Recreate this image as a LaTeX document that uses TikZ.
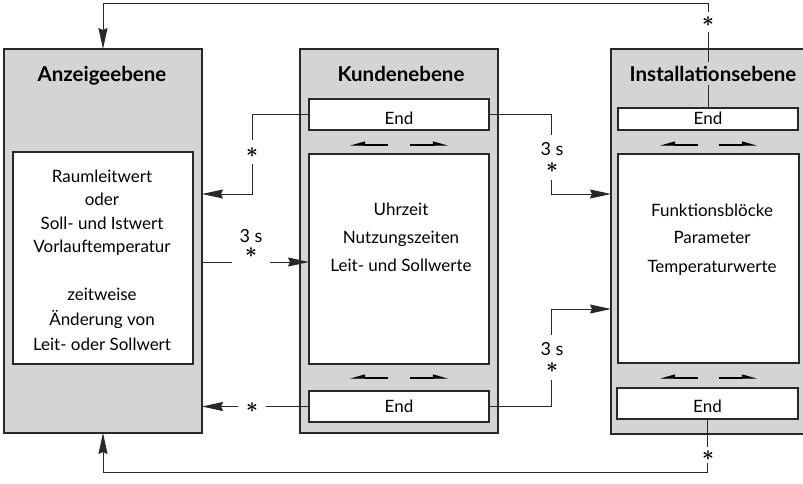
\documentclass[tikz,border=0pt]{standalone}
\usepackage{fontspec}
\setmainfont{Lato}
\usetikzlibrary{arrows.meta,calc}
\definecolor{panel}{RGB}{211,212,214}
\definecolor{ink}{RGB}{40,40,40}
\newcommand{\starglyph}{{\fontsize{22}{22}\selectfont\boldmath$\ast$}}

\begin{document}
\begin{tikzpicture}[x=1pt,y=-1pt,
  panelbox/.style={draw=ink,line width=1.4pt,fill=panel,anchor=north west,inner sep=0pt,outer sep=0pt},
  whitebox/.style={draw=ink,line width=1.1pt,fill=white,anchor=north west,inner sep=0pt,outer sep=0pt},
  heading/.style={font=\fontsize{20.5}{24}\selectfont\bfseries,anchor=base,fill=panel,inner sep=4pt},
  bodytext/.style={font=\fontsize{17}{20}\selectfont,anchor=base,inner sep=0pt},
  conn/.style={draw=ink,line width=1pt},
  tip/.style={-{Stealth[length=21pt,width=9pt,inset=2pt]}},
  harpR/.style={draw=black,line width=1.1pt,-{Stealth[harpoon,length=13pt,width=7pt,inset=0pt]}},
  harpL/.style={draw=black,line width=1.1pt,-{Stealth[harpoon,swap,length=13pt,width=7pt,inset=0pt]}},
  % asterisk on a connector; the white box (text height/depth) opens the gap in the line
  starmark/.style n args={2}{fill=white,inner sep=0pt,anchor=base,
    text height=#1pt,text depth=#2pt},
  % "3 s" above an asterisk, on a white patch that interrupts the line;
  % the node is placed by the baseline of its last line (the asterisk)
  delay/.style={fill=white,align=center,anchor=base,inner xsep=2pt,inner ysep=7pt,
    font=\fontsize{18}{20}\selectfont},
]
\useasboundingbox (0,0) rectangle (803,483);

% the three level panels
\node[panelbox,minimum width=198pt,minimum height=384pt] (anz) at (4,49) {};
\node[panelbox,minimum width=198pt,minimum height=384pt] (kun) at (300,49) {};
\node[panelbox,minimum width=200pt,minimum height=385pt] (ins) at (611,49) {};

% content boxes
\node[whitebox,minimum width=180pt,minimum height=212pt] (anzIn) at (13,152) {};
\node[whitebox,minimum width=180pt,minimum height=210pt] (kunIn) at (309,154) {};
\node[whitebox,minimum width=181pt,minimum height=209pt] (insIn) at (618,154) {};

% End boxes
\node[whitebox,minimum width=180pt,minimum height=31pt] (kunEndT) at (309,99) {};
\node[whitebox,minimum width=180pt,minimum height=31pt] (kunEndB) at (309,391) {};
\node[whitebox,minimum width=180pt,minimum height=22pt] (insEndT) at (618,108) {};
\node[whitebox,minimum width=181pt,minimum height=31pt] (insEndB) at (617,388) {};

% routing points
\coordinate (topY) at (0,3);
\coordinate (botY) at (0,472);
\coordinate (jL) at (252,194);
\coordinate (midY) at (0,262);
\coordinate (jR1) at (551,194);
\coordinate (jR2) at (551,309);

% connectors
\draw[conn,tip] (insEndT.north) -- (insEndT.north |- topY) -| (anz.north);
\draw[conn,tip] (insEndB.south) -- (insEndB.south |- botY) -| (anz.south);
\draw[conn,tip] (kunEndT.west) -| (jL) -- (jL -| anz.east);
\draw[conn,tip] (anz.east |- midY) -- (kunIn.west |- midY);
\draw[conn,tip] (kunEndB.west) -- (kunEndB.west -| anz.east);
\draw[conn,tip] (kunEndT.east) -| (jR1) -- (jR1 -| ins.west);
\draw[conn,tip] (kunEndB.east) -| (jR2) -- (jR2 -| ins.west);

% headings
\node[heading] (hAnz) at (102,81) {Anzeigeebene};
\node[heading] (hKun) at (401,81) {Kundenebene};
\node[heading] (hIns) at (713,81) {Installationsebene};

% End labels
\node[bodytext] (eKT) at (399,124) {End};
\node[bodytext] (eKB) at (399,412) {End};
\node[bodytext] (eIT) at (708,124) {End};
\node[bodytext] (eIB) at (707.5,412) {End};

% panel contents
\foreach \t/\y [count=\i] in {Raumleitwert/182, oder/205, Soll- und Istwert/229,
    Vorlauftemperatur/252, zeitweise/300, Änderung von/325, Leit- oder Sollwert/350}
  \node[bodytext] (anzL\i) at (102,\y) {\t};
\foreach \t/\y [count=\i] in {Uhrzeit/215, Nutzungszeiten/243, Leit- und Sollwerte/271}
  \node[bodytext] (kunL\i) at (401,\y) {\t};
\foreach \t/\y [count=\i] in {Funktionsblöcke/216, Parameter/243, Temperaturwerte/272}
  \node[bodytext] (insL\i) at (712,\y) {\t};

% asterisk marks on the connectors
\node[starmark={14.5}{5.5},minimum width=12pt] (st1) at (708,26.5) {\starglyph};
\node[starmark={17.5}{6.5},minimum width=12pt] (st2) at (252,157.5) {\starglyph};
\node[starmark={11.5}{2.5},minimum width=28pt] (st6) at (252,412.5) {\starglyph};
\node[starmark={13.5}{2.5},minimum width=12pt] (st7) at (708,460.5) {\starglyph};

% delay labels with their asterisks
\node[delay,minimum width=38pt] (d3) at (251,257.5) {3 s\\[-4.5pt]\starglyph};
\node[delay] (d4) at (552,172.5) {3 s\\[-2.5pt]\starglyph};
\node[delay] (d5) at (552,372.5) {3 s\\[-2.5pt]\starglyph};

% scroll arrows
\foreach \y in {145,378} {
  \draw[harpL] (388,\y) -- (350,\y);
  \draw[harpR] (410,\y) -- (448,\y);
  \draw[harpL] (698,\y) -- (660,\y);
  \draw[harpR] (719,\y) -- (757,\y);
}
\end{tikzpicture}
\end{document}
